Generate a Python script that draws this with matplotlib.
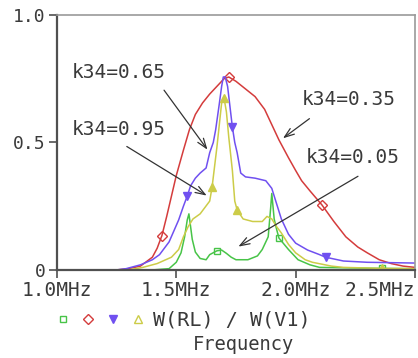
import matplotlib
matplotlib.use('Agg')
import matplotlib.pyplot as plt
from matplotlib.lines import Line2D
from matplotlib.legend_handler import HandlerTuple

plt.rcParams['font.family'] = ['DejaVu Sans Mono']

# frequency (MHz) / power ratio
f_red = [1.00, 1.25, 1.30, 1.35, 1.40, 1.42, 1.44, 1.46, 1.48, 1.50, 1.53, 1.555, 1.58, 1.61,
         1.64, 1.67, 1.70, 1.72, 1.75, 1.79, 1.83, 1.87, 1.90, 1.93, 1.97, 2.00, 2.025, 2.06,
         2.11, 2.16, 2.21, 2.26, 2.30, 2.35, 2.40, 2.45, 2.50]
y_red = [0.0, 0.0, 0.005, 0.015, 0.05, 0.085, 0.135, 0.21, 0.29, 0.37, 0.47, 0.55, 0.61, 0.655,
         0.69, 0.72, 0.75, 0.757, 0.74, 0.71, 0.68, 0.63, 0.57, 0.51, 0.44, 0.39, 0.35, 0.31,
         0.255, 0.19, 0.13, 0.09, 0.067, 0.04, 0.025, 0.015, 0.01]

f_blue = [1.00, 1.25, 1.29, 1.35, 1.40, 1.43, 1.47, 1.51, 1.53, 1.546, 1.56, 1.58, 1.60, 1.625,
          1.64, 1.655, 1.665, 1.68, 1.69, 1.697, 1.705, 1.715, 1.725, 1.735, 1.745, 1.755, 1.77,
          1.79, 1.83, 1.875, 1.90, 1.92, 1.94, 1.97, 2.00, 2.05, 2.10, 2.125, 2.20, 2.30, 2.50]
y_blue = [0.0, 0.0, 0.005, 0.02, 0.04, 0.06, 0.11, 0.196, 0.25, 0.29, 0.33, 0.36, 0.38, 0.40,
          0.46, 0.50, 0.55, 0.65, 0.72, 0.757, 0.757, 0.72, 0.64, 0.56, 0.50, 0.46, 0.38,
          0.365, 0.36, 0.35, 0.32, 0.26, 0.20, 0.14, 0.105, 0.078, 0.06, 0.05, 0.035, 0.03, 0.027]

f_yel = [1.00, 1.30, 1.36, 1.42, 1.48, 1.51, 1.53, 1.55, 1.57, 1.60, 1.62, 1.64, 1.65, 1.67,
         1.69, 1.70, 1.71, 1.72, 1.735, 1.745, 1.755, 1.78, 1.82, 1.86, 1.88, 1.90, 1.92, 1.94,
         1.97, 2.00, 2.04, 2.07, 2.15, 2.20, 2.36, 2.50]
y_yel = [0.0, 0.0, 0.01, 0.025, 0.05, 0.08, 0.13, 0.17, 0.20, 0.22, 0.245, 0.27, 0.325, 0.48,
         0.655, 0.675, 0.62, 0.52, 0.39, 0.27, 0.235, 0.20, 0.19, 0.19, 0.21, 0.20, 0.17, 0.145,
         0.10, 0.067, 0.04, 0.03, 0.015, 0.01, 0.006, 0.005]

f_grn = [1.00, 1.40, 1.47, 1.50, 1.52, 1.535, 1.546, 1.553, 1.56, 1.567, 1.58, 1.60, 1.625,
         1.64, 1.67, 1.69, 1.71, 1.73, 1.75, 1.80, 1.84, 1.86, 1.885, 1.895, 1.90, 1.91, 1.92,
         1.93, 1.97, 2.01, 2.06, 2.10, 2.36, 2.50]
y_grn = [0.0, 0.0, 0.005, 0.03, 0.067, 0.13, 0.196, 0.22, 0.17, 0.12, 0.07, 0.045, 0.04,
         0.06, 0.075, 0.078, 0.065, 0.05, 0.04, 0.04, 0.055, 0.08, 0.13, 0.24, 0.30, 0.20, 0.16,
         0.125, 0.08, 0.04, 0.02, 0.01, 0.006, 0.005]

x_ticks = [1.0, 1.5, 2.0, 2.5]
x_labels = ['1.0MHz', '1.5MHz', '2.0MHz', '2.5MHz']
y_ticks = [0, 0.5, 1.0]
y_labels = ['0', '0.5', '1.0']

c_red, c_blue, c_yel, c_grn = '#d43c3c', '#7050f0', '#cccc48', '#48c448'
txt = '#3a3a3a'

fig = plt.figure(figsize=(4.18, 3.58), dpi=100)
ax = fig.add_axes([0.136, 0.246, 0.857, 0.712])

ax.plot(f_grn, y_grn, color=c_grn, lw=1.1, marker='s', ms=5, mfc='none', mew=1.0,
        markevery=[f_grn.index(1.67), f_grn.index(1.93), f_grn.index(2.36)])
ax.plot(f_red, y_red, color=c_red, lw=1.1, marker='D', ms=5, mfc='none', mew=1.0,
        markevery=[f_red.index(1.44), f_red.index(1.72), f_red.index(2.11)])
ax.plot(f_blue, y_blue, color=c_blue, lw=1.1, marker='v', ms=6,
        markevery=[f_blue.index(1.546), f_blue.index(1.735), f_blue.index(2.125)])
ax.plot(f_yel, y_yel, color=c_yel, lw=1.1, marker='^', ms=6,
        markevery=[f_yel.index(1.65), f_yel.index(1.70), f_yel.index(1.755), f_yel.index(2.36)])

ax.set_xlim(1.0, 2.5)
ax.set_ylim(0, 1.0)
ax.set_xticks(x_ticks)
ax.set_xticklabels(x_labels, fontsize=14, color=txt)
ax.get_xticklabels()[-1].set_horizontalalignment('right')
ax.set_yticks(y_ticks)
ax.set_yticklabels(y_labels, fontsize=13, color=txt)
ax.tick_params(direction='out', length=6, width=1.2, color='#505050', pad=2)

for s in ['left', 'bottom']:
    ax.spines[s].set_color('#505050')
    ax.spines[s].set_linewidth(1.6)
for s in ['top', 'right']:
    ax.spines[s].set_color('#9a9a9a')
    ax.spines[s].set_linewidth(1.2)

# annotations
arr = dict(arrowstyle='->,head_length=0.7,head_width=0.25', color='#333333', lw=0.9)
ax.text(1.0625, 0.776, 'k34=0.65', fontsize=14, color=txt, va='center')
ax.annotate('', xy=(1.6375, 0.463), xytext=(1.442, 0.714), arrowprops=arr)
ax.text(1.0625, 0.549, 'k34=0.95', fontsize=14, color=txt, va='center')
ax.annotate('', xy=(1.6375, 0.286), xytext=(1.283, 0.49), arrowprops=arr)
ax.text(2.025, 0.667, 'k34=0.35', fontsize=14, color=txt, va='center')
ax.annotate('', xy=(1.9375, 0.51), xytext=(2.067, 0.60), arrowprops=arr)
ax.text(2.042, 0.443, 'k34=0.05', fontsize=14, color=txt, va='center')
ax.annotate('', xy=(1.75, 0.086), xytext=(2.271, 0.373), arrowprops=arr)

# legend row: four trace symbols then the expression
hs = (Line2D([], [], ls='none', marker='s', ms=5, mfc='none', color=c_grn),
      Line2D([], [], ls='none', marker='D', ms=5, mfc='none', color=c_red),
      Line2D([], [], ls='none', marker='v', ms=6, color=c_blue),
      Line2D([], [], ls='none', marker='^', ms=6, mfc='none', color=c_yel))
fig.legend([hs], ['W(RL) / W(V1)'], handler_map={tuple: HandlerTuple(ndivide=None, pad=0.0)},
           loc='center left', bbox_to_anchor=(0.121, 0.105), frameon=False, fontsize=14.5,
           handlelength=4.97, handletextpad=0.1, borderpad=0, borderaxespad=0,
           labelcolor=txt)
fig.text(0.583, 0.038, 'Frequency', fontsize=13.5, color=txt, ha='center', va='center')

fig.savefig('out.png', dpi=100)
